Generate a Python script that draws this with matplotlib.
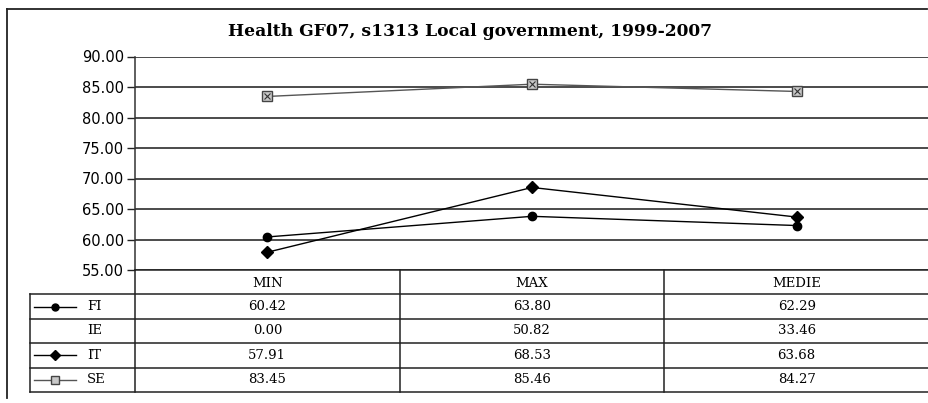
import matplotlib.pyplot as plt
from matplotlib.lines import Line2D

# data
categories = ['MIN', 'MAX', 'MEDIE']
series_names = ['FI', 'IE', 'IT', 'SE']
fi_vals = [60.42, 63.80, 62.29]
ie_vals = [0.00, 50.82, 33.46]
it_vals = [57.91, 68.53, 63.68]
se_vals = [83.45, 85.46, 84.27]
y_ticks = [55, 60, 65, 70, 75, 80, 85, 90]

W, H = 929, 403
fig = plt.figure(figsize=(W / 100, H / 100), dpi=100)

def fx(px):
    return px / W

def fy(py):
    return 1 - py / H

ax_left, ax_right = 135, 929
ax = fig.add_axes([fx(ax_left), fy(270), fx(ax_right - ax_left), (270 - 56.5) / H])
x = list(range(len(categories)))

styles = {
    'FI': dict(color='black', lw=1.0, marker='o', ms=6, mfc='black', mec='black'),
    'IT': dict(color='black', lw=1.0, marker='D', ms=6.5, mfc='black', mec='black'),
    'SE': dict(color='#555555', lw=1.0, marker='s', ms=7, mfc='#c8c8c8', mec='#444444'),
}
values = {'FI': fi_vals, 'IE': ie_vals, 'IT': it_vals, 'SE': se_vals}

ax.plot(x, fi_vals, **styles['FI'], zorder=3)
ax.plot(x, it_vals, **styles['IT'], zorder=3)
ax.plot(x, se_vals, **styles['SE'], zorder=3)
ax.plot(x, se_vals, ls='none', marker='x', ms=4, mew=0.8, color='#333333', zorder=4)
# IE lies below the axis range, so it is not drawn in the plot area

ax.set_xlim(-0.5, 2.5)
ax.set_ylim(55, 90)
ax.set_yticks(y_ticks)
ax.set_yticklabels([f'{v:.2f}' for v in y_ticks], fontsize=10.5, family='DejaVu Sans')
ax.set_xticks([])
ax.grid(axis='y', color='#1a1a1a', lw=1.1)
ax.set_axisbelow(True)
for s in ['top', 'right', 'bottom']:
    ax.spines[s].set_visible(False)
ax.spines['left'].set_color('#333333')
ax.spines['left'].set_linewidth(1.1)
ax.tick_params(axis='y', length=6, width=1.0, pad=2, color='#222222')

# data table below the plot, sharing x positions with the chart
tax = fig.add_axes([fx(ax_left), fy(392), fx(ax_right - ax_left), (392 - 270) / H])
tax.set_xlim(-0.5, 2.5)
tax.set_ylim(5, 0)
tax.axis('off')

px_per_unit = (ax_right - ax_left) / 3

def dx(px):
    return (px - ax_left) / px_per_unit - 0.5

lc = '#222222'
# horizontal lines
tax.plot([-0.5, 2.5], [0, 0], color=lc, lw=1.1, clip_on=False)
for r in range(1, 6):
    tax.plot([dx(30), 2.5], [r, r], color=lc, lw=1.1, clip_on=False)
# vertical lines
tax.plot([dx(30), dx(30)], [1, 5], color=lc, lw=1.1, clip_on=False)
for b in [-0.5, 0.5, 1.5]:
    tax.plot([b, b], [0, 5], color=lc, lw=1.1, clip_on=False)

tfont = dict(family='DejaVu Serif', fontsize=9.5)
for i, c in enumerate(categories):
    tax.text(i, 0.55, c, ha='center', va='center', **tfont)
for r, name in enumerate(series_names, start=1):
    for i, v in enumerate(values[name]):
        tax.text(i, r + 0.5, f'{v:.2f}', ha='center', va='center', **tfont)
    tax.text(dx(87), r + 0.5, name, ha='left', va='center', **tfont)
    if name in styles:
        st = styles[name]
        tax.add_line(Line2D([dx(34), dx(76)], [r + 0.5, r + 0.5], color=st['color'], lw=1.0, clip_on=False))
        tax.add_line(Line2D([dx(55)], [r + 0.5], ls='none', marker=st['marker'], ms=st['ms'] - 1,
                            mfc=st['mfc'], mec=st['mec'], clip_on=False))

# title
fig.text(fx(470), fy(31), 'Health GF07, s1313 Local government, 1999-2007',
         ha='center', va='center', family='DejaVu Serif', fontweight='bold', fontsize=12.3)

# outer chart frame (top and left edges)
fig.add_artist(Line2D([fx(7), fx(927)], [fy(9), fy(9)], color='#222222', lw=1.3))
fig.add_artist(Line2D([fx(7), fx(7)], [fy(9), fy(398)], color='#222222', lw=1.3))

fig.savefig('out.png', dpi=100)
